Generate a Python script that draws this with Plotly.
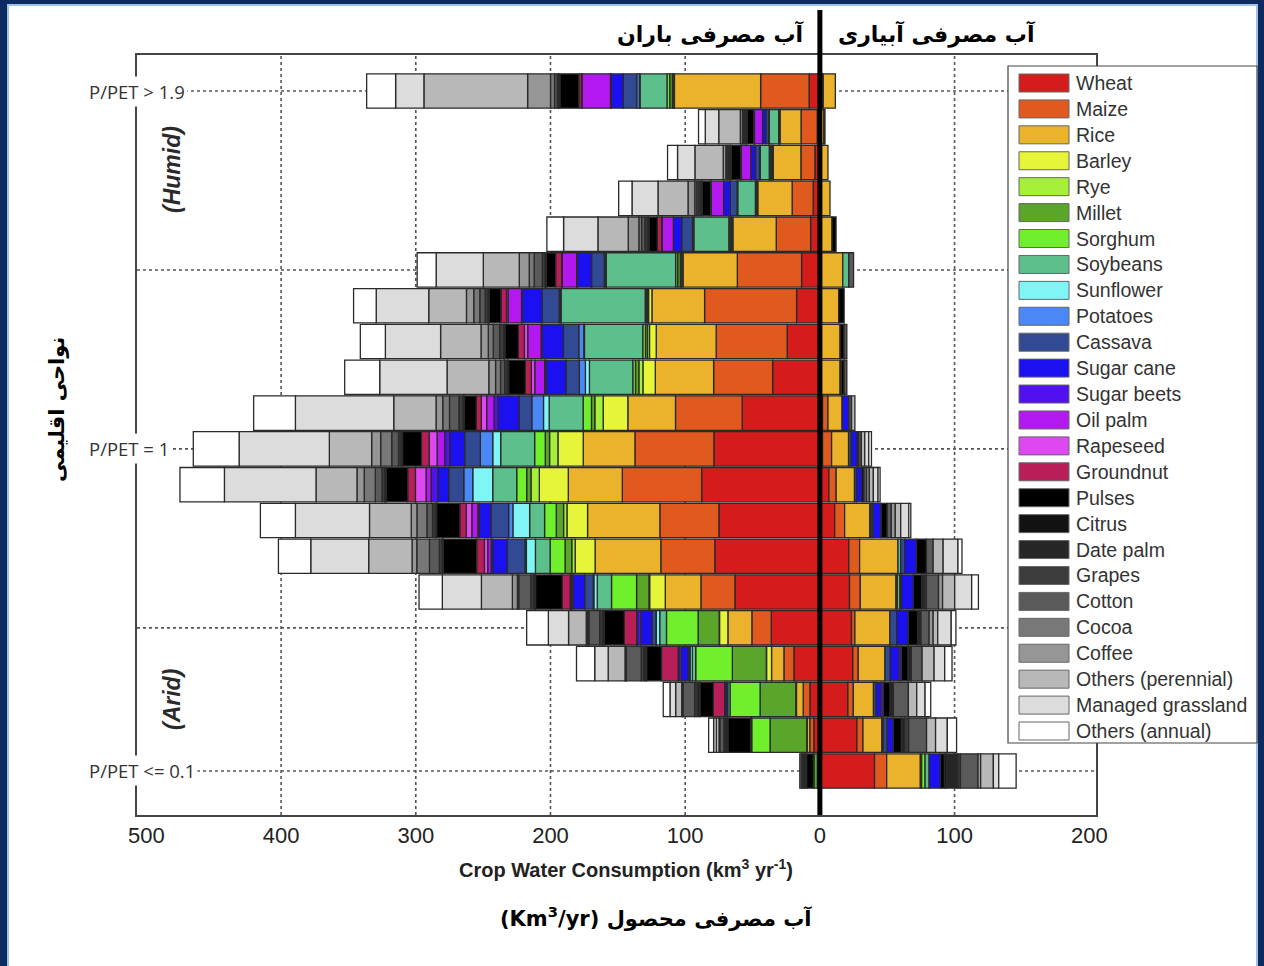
import plotly.graph_objects as go

# ---------------- data ----------------
CROPS = ["Wheat", "Maize", "Rice", "Barley", "Rye", "Millet", "Sorghum", "Soybeans",
         "Sunflower", "Potatoes", "Cassava", "Sugar cane", "Sugar beets", "Oil palm",
         "Rapeseed", "Groundnut", "Pulses", "Citrus", "Date palm", "Grapes", "Cotton",
         "Cocoa", "Coffee", "Others (perennial)", "Managed grassland", "Others (annual)"]

COLORS = ["#d41c1c", "#e05a20", "#ebb22c", "#e6f53a", "#a6f03a", "#5aa62a", "#70f02c",
          "#5cbf8c", "#80f5f5", "#4a88f5", "#324a94", "#1a10f0", "#5010f0", "#b418f0",
          "#dd48f0", "#b81e58", "#000000", "#121212", "#262626", "#3c3c3c", "#5a5a5a",
          "#787878", "#969696", "#b8b8b8", "#dcdcdc", "#ffffff"]

# climate classes, top (P/PET > 1.9) to bottom (P/PET <= 0.1)
ROWS = list(range(20))

# rainfed (green water) consumption, km3/yr, per crop, rows top -> bottom
rain_wheat = [8, 2, 3.7, 5, 6.9, 13.6, 17.3, 24.3, 35.1, 57.7, 78.7, 87.8, 75, 78, 63.1, 36.1, 19.3, 7.4, 4.5, 0.5]
rain_maize = [36, 12, 10.4, 15.6, 25.5, 47.7, 68.3, 52.7, 43.8, 49.5, 58.6, 58.9, 43.8, 40.1, 25.2, 14.4, 7.4, 5, 3, 0.3]
rain_rice = [64, 15.6, 20.5, 25.5, 32.2, 40.3, 39.1, 44.5, 43.3, 35.4, 38.4, 40.1, 53.7, 48.8, 26.5, 17.8, 9.2, 5, 2, 0.8]
rain_barley = [1, 0, 0.5, 0.5, 0.5, 1, 2.5, 5, 9.2, 18.3, 18.8, 21.5, 15.3, 14.8, 11.6, 6.2, 3.7, 0.5, 0.3, 0.3]
rain_rye = [0.5, 0, 0.5, 0.3, 0.5, 1, 0.5, 1.5, 3, 6.2, 6.2, 6.2, 2.5, 2.5, 0.5, 0.3, 0.2, 0, 0, 0]
rain_millet = [2, 0.5, 1, 0.5, 1, 2, 1, 1.5, 2.5, 2.5, 3.2, 3.2, 5.4, 5, 9.2, 15.6, 25.2, 26.5, 27.2, 2.5]
rain_sorghum = [2, 0.5, 1, 0.5, 1, 1.5, 1, 2, 2, 6.2, 7.9, 7.4, 8.7, 11.1, 18.6, 23.5, 27.2, 22.3, 13.6, 0.5]
rain_soybeans = [20, 7, 6.7, 13.1, 26, 51.5, 62.4, 43.3, 32.2, 25.2, 25.2, 17.8, 11.1, 10.9, 10.6, 5, 2.5, 1.7, 0.3, 0]
rain_sunflower = [0.5, 0, 0, 0, 0.3, 0.5, 0.5, 0.5, 3, 4.2, 5.9, 14.8, 12.4, 6.7, 2.5, 2.5, 1.7, 0.5, 0, 0]
rain_potatoes = [2, 0.5, 0.5, 0.5, 0.7, 1, 1, 3.7, 4.5, 8.7, 9.2, 6.7, 3.2, 1, 0.5, 0.3, 0.2, 0, 0, 0]
rain_cassava = [10, 2, 3, 5, 8, 9.4, 12.6, 11.4, 9.9, 9.4, 11.6, 11.1, 13.1, 13.1, 6.2, 3, 1.2, 0, 0, 0]
rain_sugarcane = [9, 2.5, 3.5, 5, 6.2, 10.6, 14.8, 16.1, 14.8, 15.6, 11.1, 8.2, 8.7, 11.1, 8.7, 8.2, 5, 1.5, 0.3, 0]
rain_sugarbeets = [0.5, 0, 0, 0, 0, 0.5, 0.5, 0.5, 1, 3, 3.7, 5, 1, 1, 1.2, 2.5, 2, 0.3, 0, 0]
rain_oilpalm = [21, 6, 7, 9.2, 8.2, 10.6, 9.9, 9.9, 7.4, 5.5, 5.7, 3.7, 4.5, 2.5, 0.5, 0.3, 0.2, 0, 0, 0]
rain_rapeseed = [0.5, 0, 0, 0, 0.5, 0.5, 1.2, 2.5, 2.5, 4, 5.9, 7.9, 4.2, 2.5, 0.5, 0.3, 0.2, 0, 0, 0]
rain_groundnut = [2, 0.5, 0.5, 0.5, 3.2, 4.5, 4.2, 4.5, 4.5, 3.7, 5.7, 5.7, 4.7, 5.7, 5.9, 9.2, 12.4, 8.4, 0.3, 0]
rain_pulses = [14, 5, 7, 6.2, 6.2, 6.9, 8.7, 9.9, 12.4, 8.9, 14.1, 16.1, 17.3, 24.7, 19.8, 14.8, 11.1, 9.9, 16.8, 5]
rain_citrus = [1, 0.5, 0.5, 0.5, 0.5, 0.5, 0.5, 0.5, 0.5, 0.5, 0.5, 0.5, 0.5, 0.5, 0.5, 0.5, 0.5, 0.5, 0.5, 1]
rain_datepalm = [0, 0, 0.5, 0.5, 0.5, 0.5, 0.5, 0.5, 0.5, 0.5, 0.5, 0.5, 0.5, 0.5, 1, 1, 1.5, 1.5, 1.5, 1.5]
rain_grapes = [1, 1, 1, 1.5, 2, 2, 2, 3, 2, 3, 2, 2, 2, 2, 2, 2, 2, 2, 1, 1]
rain_cotton = [2, 1, 1, 1.5, 2.5, 6, 4, 4.7, 3, 7, 5, 5, 4.2, 7.4, 9, 8, 11, 8.6, 3, 1.5]
rain_cocoa = [3, 1, 1, 1.5, 2, 3.7, 4.5, 3.7, 3.7, 5, 8.2, 8.2, 7.4, 9.4, 1, 1, 0.5, 0.5, 0.3, 0]
rain_coffee = [17, 1.5, 2, 5, 7.9, 7.4, 5.4, 5.4, 5, 5, 6.7, 5.4, 4.2, 3.5, 3.7, 1, 0.5, 0.5, 0.3, 0]
rain_otherperennial = [77, 16, 21, 22.3, 22.5, 26.7, 28, 30, 31, 31.4, 31.4, 30.4, 31, 32.2, 23, 13.1, 12.5, 4.5, 2, 0]
rain_grassland = [21, 10, 12.9, 19.3, 25.5, 35, 39, 41, 50, 73, 67, 68, 55, 43, 29, 15, 10, 4.2, 2, 0]
rain_otherannual = [21.5, 5, 7.4, 9.9, 12.4, 14.1, 16.8, 18.6, 26, 31, 34, 33, 26, 24, 17.3, 16.1, 13.5, 5, 3.7, 0]

# irrigated (blue water) consumption, km3/yr, per crop, rows top -> bottom
irr_wheat = [1.5, 0.5, 0.5, 1, 1, 1, 1, 1, 1, 2, 2, 6.7, 11, 21.5, 22, 23.5, 24.5, 20.8, 27.5, 40.6]
irr_maize = [1, 0, 0, 0, 0, 0, 0, 0, 0, 4, 6.7, 5.4, 7.4, 8, 8, 2.5, 4, 4, 4.5, 9]
irr_rice = [9, 2.5, 5.5, 6.5, 8, 16, 13, 14, 14, 10.5, 12.6, 13.6, 18.6, 28.5, 26.5, 26, 19.8, 15, 14, 25]
irr_barley = [0, 0, 0, 0, 0, 0, 0, 0, 0, 0, 0, 0, 0, 0, 0, 0, 0, 0, 0, 1]
irr_rye = [0] * 20
irr_millet = [0] * 20
irr_sorghum = [0, 0, 0, 0, 0, 0, 0, 0, 0, 0, 0, 0, 0, 0, 1, 0, 0, 0, 0, 2.5]
irr_soybeans = [0, 0, 0, 0, 0, 4.5, 0, 0, 0, 0, 0, 0, 1, 2, 2, 0, 0, 0, 1, 3]
irr_sunflower = [0] * 20
irr_potatoes = [0] * 20
irr_cassava = [0, 0, 0, 0, 0, 0, 0, 0, 0, 0, 2, 1.5, 1.5, 3, 1, 5, 4, 2, 3, 0]
irr_sugarcane = [0, 0, 0, 0, 0, 0, 0, 0, 1, 5, 4.5, 4, 6, 8.7, 9, 8.7, 6.2, 3.4, 4.5, 8.4]
irr_sugarbeets = [0, 0, 0, 0, 0, 0, 0, 0, 0, 0, 0, 0, 0, 0, 0, 0, 2, 2, 0, 0]
irr_oilpalm = [0] * 20
irr_rapeseed = [0] * 20
irr_groundnut = [0] * 20
irr_pulses = [0, 0.8, 0, 0, 3, 0, 4, 3, 2, 0, 1, 1.5, 4.5, 7.4, 6, 7, 5, 5, 6, 3]
irr_citrus = [0, 0, 0, 0, 0, 0, 0, 0, 0, 0, 0, 0, 0, 0, 0, 0, 0, 0, 0, 1.5]
irr_datepalm = [0, 0, 0, 0, 0, 0, 0, 0, 0, 0, 0, 0, 0, 0, 2, 2.4, 2.4, 2.4, 2.4, 8.4]
irr_grapes = [0, 0, 0, 0, 0, 0, 0, 0, 0, 0, 0, 0, 0, 0, 1.6, 0, 0, 0, 3, 2]
irr_cotton = [0, 0, 0, 0, 0, 3.5, 0, 2, 2, 2, 2, 2, 3, 5, 9, 6, 8, 11.1, 13.3, 13]
irr_cocoa = [0] * 20
irr_coffee = [0, 0, 0, 0, 0, 0, 0, 0, 0, 0, 0, 2, 3, 0, 3, 3, 0, 0, 0, 2]
irr_otherperennial = [0, 0, 0, 0, 0, 0, 0, 0, 0, 2.5, 2.5, 3, 4, 7.4, 9, 3.4, 8.9, 6.2, 6.7, 9.4]
irr_grassland = [0, 0, 0, 0, 0, 0, 0, 0, 0, 0, 3, 3.5, 6, 11, 12.6, 10, 7.9, 6.2, 8.7, 4]
irr_otherannual = [0, 0, 0, 0, 0, 0, 0, 0, 0, 0, 2, 1.5, 1.5, 3, 5, 3.5, 5.4, 4.2, 6.9, 12.9]

RAINFED = [rain_wheat, rain_maize, rain_rice, rain_barley, rain_rye, rain_millet, rain_sorghum,
           rain_soybeans, rain_sunflower, rain_potatoes, rain_cassava, rain_sugarcane,
           rain_sugarbeets, rain_oilpalm, rain_rapeseed, rain_groundnut, rain_pulses,
           rain_citrus, rain_datepalm, rain_grapes, rain_cotton, rain_cocoa, rain_coffee,
           rain_otherperennial, rain_grassland, rain_otherannual]
IRRIGATED = [irr_wheat, irr_maize, irr_rice, irr_barley, irr_rye, irr_millet, irr_sorghum,
             irr_soybeans, irr_sunflower, irr_potatoes, irr_cassava, irr_sugarcane,
             irr_sugarbeets, irr_oilpalm, irr_rapeseed, irr_groundnut, irr_pulses,
             irr_citrus, irr_datepalm, irr_grapes, irr_cotton, irr_cocoa, irr_coffee,
             irr_otherperennial, irr_grassland, irr_otherannual]

TICK_VALUES = [-500, -400, -300, -200, -100, 0, 100, 200]
TICK_TEXT = ["500", "400", "300", "200", "100", "0", "100", "200"]
GRID_X = [-400, -300, -200, -100, 100]
GRID_ROWS = [0, 5, 10, 15, 19]
ROW_LABELS = {0: "P/PET &gt; 1.9", 10: "P/PET = 1", 19: "P/PET &lt;= 0.1"}

# ---------------- layout geometry (pixels) ----------------
W, H = 1264, 966
PL, PR, PT, PB = 137, 1096, 55, 815


def px_x(px):
    return (px - PL) / (PR - PL)


def px_y(py):
    return (PB - py) / (PB - PT)


SANS = "Liberation Sans, Arial, sans-serif"
FA = "DejaVu Sans, Noto Sans, sans-serif"

fig = go.Figure()

for name, color, rain, irr in zip(CROPS, COLORS, RAINFED, IRRIGATED):
    fig.add_trace(go.Bar(
        y=ROWS, x=[-v if v > 0 else None for v in rain], orientation="h",
        name=name, marker=dict(color=color, line=dict(color="#2a2a2a", width=1.3)),
        width=0.96, showlegend=False))
    fig.add_trace(go.Bar(
        y=ROWS, x=[v if v > 0 else None for v in irr], orientation="h",
        name=name, marker=dict(color=color, line=dict(color="#2a2a2a", width=1.3)),
        width=0.96, showlegend=False))

shapes = []
# white page with navy frame
shapes.append(dict(type="rect", xref="paper", yref="paper", layer="below",
                   x0=px_x(8), x1=px_x(1257), y0=px_y(970), y1=px_y(5),
                   fillcolor="white", line=dict(color="#9cc3ec", width=2)))
# dotted grid
for gx in GRID_X:
    shapes.append(dict(type="line", xref="x", yref="paper", layer="below",
                       x0=gx, x1=gx, y0=0, y1=1,
                       line=dict(color="#555555", width=1.6, dash="dot")))
for gr in GRID_ROWS:
    shapes.append(dict(type="line", xref="paper", yref="y", layer="below",
                       x0=0, x1=1, y0=gr, y1=gr,
                       line=dict(color="#555555", width=1.6, dash="dot")))
# thick zero line
shapes.append(dict(type="line", xref="x", yref="paper", layer="above",
                   x0=0, x1=0, y0=0, y1=px_y(10),
                   line=dict(color="black", width=5)))

annotations = []
# custom legend
shapes.append(dict(type="rect", xref="paper", yref="paper", layer="above",
                   x0=px_x(1008), x1=px_x(1257), y0=px_y(743), y1=px_y(66),
                   fillcolor="white", line=dict(color="#444444", width=1.2)))
for i, (name, color) in enumerate(zip(CROPS, COLORS)):
    yc = 83 + i * 25.92
    shapes.append(dict(type="rect", xref="paper", yref="paper", layer="above",
                       x0=px_x(1019), x1=px_x(1069), y0=px_y(yc + 9), y1=px_y(yc - 9),
                       fillcolor=color, line=dict(color="#666666", width=1)))
    annotations.append(dict(x=px_x(1074), y=px_y(yc), xref="paper", yref="paper",
                            text=name, showarrow=False, xanchor="left", yanchor="middle",
                            font=dict(family=SANS, size=19.5, color="#333333")))

# row labels on the left axis
for r, txt in ROW_LABELS.items():
    annotations.append(dict(x=px_x(86), y=r, xref="paper", yref="y", text=txt,
                            showarrow=False, xanchor="left", yanchor="middle",
                            bgcolor="white", borderpad=2,
                            font=dict(family="Open Sans, Liberation Sans, sans-serif", size=18.5, color="#333333")))


def label(px, py, text, font, angle=0, xanchor="center"):
    return dict(x=px_x(px), y=px_y(py), xref="paper", yref="paper", text=text,
                textangle=angle, showarrow=False, xanchor=xanchor, yanchor="middle",
                font=font)


annotations += [
    label(172, 170, "<b><i>(Humid)</i></b>", dict(family=SANS, size=23, color="#2a2a2a"), -90),
    label(172, 700, "<b><i>(Arid)</i></b>", dict(family=SANS, size=23, color="#2a2a2a"), -90),
    label(57, 410, "<b>نواحی اقلیمی</b>", dict(family=FA, size=21, color="black"), -90),
    label(806, 34, "<b>آب مصرفی باران</b>", dict(family=FA, size=22, color="black"), 0, "right"),
    label(836, 34, "<b>آب مصرفی آبیاری</b>", dict(family=FA, size=22, color="black"), 0, "left"),
    label(626, 868, "<b>Crop Water Consumption (km<sup>3</sup> yr<sup>-1</sup>)</b>",
          dict(family=SANS, size=20, color="#222222")),
    label(656, 917, "<b>(Km<sup>3</sup>/yr) آب مصرفی محصول</b>",
          dict(family=FA, size=21, color="black")),
]

fig.update_layout(
    width=W, height=H,
    margin=dict(l=PL, r=W - PR, t=PT, b=H - PB, pad=0),
    paper_bgcolor="#0d2b5e", plot_bgcolor="white",
    barmode="relative", bargap=0.04,
    shapes=shapes, annotations=annotations,
    showlegend=False,
    xaxis=dict(range=[-507, 205], tickvals=TICK_VALUES, ticktext=TICK_TEXT,
               showgrid=False, zeroline=False, showline=True, mirror=True,
               linecolor="#444444", linewidth=1.5, ticks="",
               tickfont=dict(family=SANS, size=22, color="#222222")),
    yaxis=dict(range=[20.23, -1.006], showticklabels=False, showgrid=False,
               zeroline=False, showline=True, mirror=True, linecolor="#444444",
               linewidth=1.5, ticks=""),
)

fig.write_html("out.html", config={"displayModeBar": False},
               post_script="document.body.style.margin='0';document.body.style.overflow='hidden';")
